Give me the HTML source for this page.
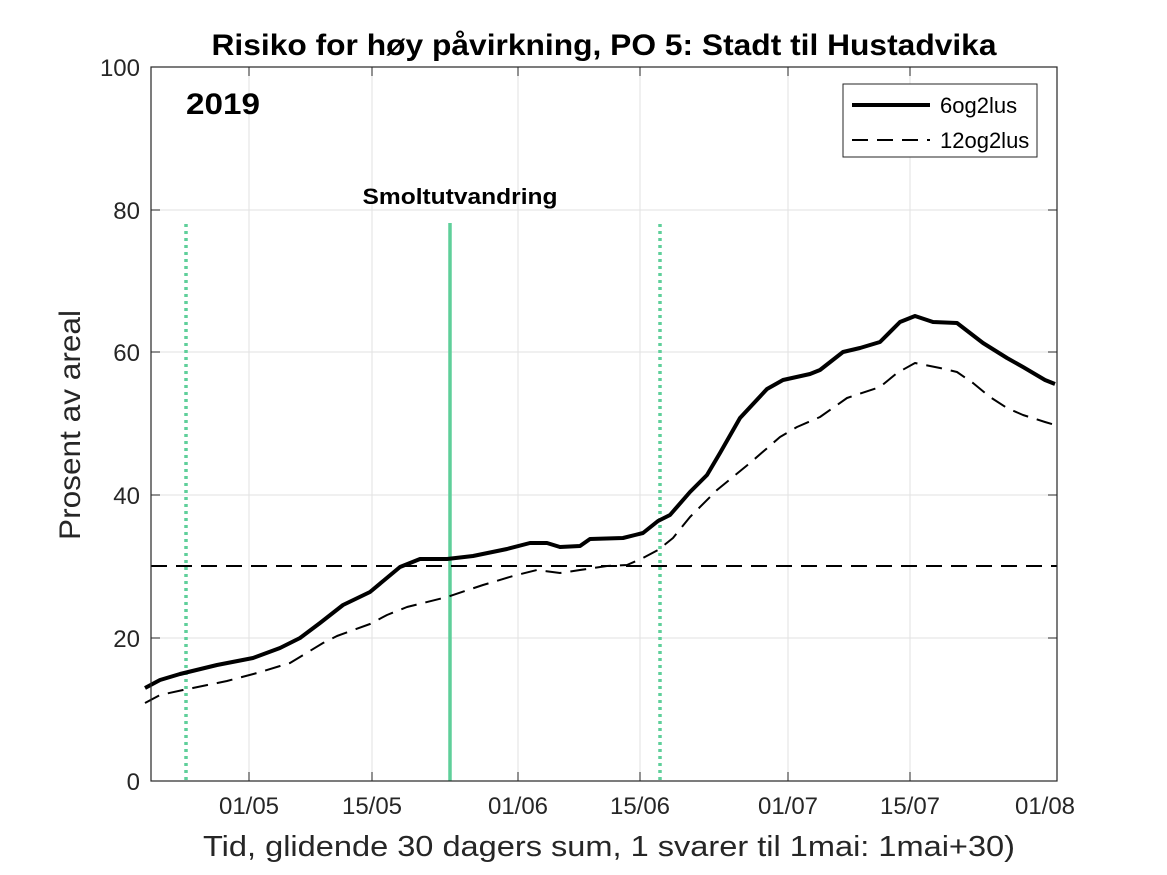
<!DOCTYPE html>
<html><head><meta charset="utf-8"><style>body{margin:0;background:#fff}svg{display:block}text{font-family:"Liberation Sans",Arial,sans-serif}</style></head><body>
<svg width="1167" height="875" viewBox="0 0 1167 875">
<rect width="1167" height="875" fill="#fff"/>
<g stroke="#e2e2e2" stroke-width="1">
<line x1="249" y1="67" x2="249" y2="781"/><line x1="372" y1="67" x2="372" y2="781"/><line x1="518" y1="67" x2="518" y2="781"/><line x1="640" y1="67" x2="640" y2="781"/><line x1="788" y1="67" x2="788" y2="781"/><line x1="910" y1="67" x2="910" y2="781"/>
<line x1="151" y1="210" x2="1057" y2="210"/><line x1="151" y1="352" x2="1057" y2="352"/><line x1="151" y1="495" x2="1057" y2="495"/><line x1="151" y1="638" x2="1057" y2="638"/>
</g>
<g stroke="#5fcf9a" stroke-width="3.5">
<line x1="186" y1="224" x2="186" y2="781" stroke-dasharray="3 4"/>
<line x1="660" y1="224" x2="660" y2="781" stroke-dasharray="3 4"/>
<line x1="450" y1="223" x2="450" y2="781"/>
</g>
<line x1="151" y1="566" x2="1057" y2="566" stroke="#000" stroke-width="2" stroke-dasharray="16 9"/>
<polyline fill="none" stroke="#000" stroke-width="4" stroke-linejoin="round" points="145,688 160,680 180,674 217,665 253,658 280,648 300,638 320,623 343,605 370,592 400,567 420,559 447,559 473,556 507,549 530,543 547,543 560,547 580,546 590,539 623,538 643,533 658,521 670,515 690,492 707,475 720,453 740,418 767,389 783,380 810,374 820,370 843,352 860,348 880,342 900,322 915,316 933,322 957,323 983,343 1007,358 1023,367 1045,380 1055,384"/>
<polyline fill="none" stroke="#000" stroke-width="2" stroke-dasharray="16 9" stroke-linejoin="round" points="145,703 160,695 183,690 227,681 257,673 290,663 323,643 337,636 370,624 387,615 407,607 447,597 483,585 513,576 537,570 560,573 580,570 607,566 627,565 643,558 658,550 673,538 690,517 717,490 750,463 780,437 797,427 820,417 847,398 880,387 897,373 915,363 940,368 957,372 973,383 990,397 1007,408 1023,415 1045,422 1055,425"/>
<rect x="151" y="67" width="906" height="714" fill="none" stroke="#262626" stroke-width="1.2"/>
<g stroke="#262626" stroke-width="1">
<line x1="249" y1="781" x2="249" y2="772"/><line x1="372" y1="781" x2="372" y2="772"/><line x1="518" y1="781" x2="518" y2="772"/><line x1="640" y1="781" x2="640" y2="772"/><line x1="788" y1="781" x2="788" y2="772"/><line x1="910" y1="781" x2="910" y2="772"/>
<line x1="249" y1="67" x2="249" y2="76"/><line x1="372" y1="67" x2="372" y2="76"/><line x1="518" y1="67" x2="518" y2="76"/><line x1="640" y1="67" x2="640" y2="76"/><line x1="788" y1="67" x2="788" y2="76"/><line x1="910" y1="67" x2="910" y2="76"/>
<line x1="151" y1="210" x2="160" y2="210"/><line x1="151" y1="352" x2="160" y2="352"/><line x1="151" y1="495" x2="160" y2="495"/><line x1="151" y1="638" x2="160" y2="638"/>
<line x1="1057" y1="210" x2="1048" y2="210"/><line x1="1057" y1="352" x2="1048" y2="352"/><line x1="1057" y1="495" x2="1048" y2="495"/><line x1="1057" y1="638" x2="1048" y2="638"/>
</g>
<g font-size="24" fill="#262626" text-anchor="end">
<text x="140" y="790">0</text><text x="140" y="647">20</text><text x="140" y="504">40</text><text x="140" y="361">60</text><text x="140" y="219">80</text><text x="140" y="76">100</text>
</g>
<g font-size="24" fill="#262626" text-anchor="middle">
<text x="249" y="814">01/05</text><text x="372" y="814">15/05</text><text x="518" y="814">01/06</text><text x="640" y="814">15/06</text><text x="788" y="814">01/07</text><text x="910" y="814">15/07</text><text x="1045" y="814">01/08</text>
<text x="609" y="856" font-size="29" textLength="812" lengthAdjust="spacingAndGlyphs">Tid, glidende 30 dagers sum, 1 svarer til 1mai: 1mai+30)</text>
<text x="604" y="55" font-size="30" font-weight="bold" fill="#000" textLength="785" lengthAdjust="spacingAndGlyphs">Risiko for høy påvirkning, PO 5: Stadt til Hustadvika</text>
<text x="460" y="204" font-size="22" font-weight="bold" fill="#000" textLength="195" lengthAdjust="spacingAndGlyphs">Smoltutvandring</text>
</g>
<text transform="translate(80,425) rotate(-90)" font-size="30" fill="#262626" text-anchor="middle" textLength="230" lengthAdjust="spacingAndGlyphs">Prosent av areal</text>
<text x="186" y="114" font-size="30" font-weight="bold" textLength="74" lengthAdjust="spacingAndGlyphs">2019</text>
<rect x="843" y="84" width="194" height="73" fill="#fff" stroke="#262626" stroke-width="1"/>
<line x1="852" y1="105" x2="930" y2="105" stroke="#000" stroke-width="4"/>
<line x1="852" y1="140" x2="930" y2="140" stroke="#000" stroke-width="2" stroke-dasharray="16 9"/>
<text x="940" y="113" font-size="22">6og2lus</text>
<text x="940" y="148" font-size="22">12og2lus</text>
</svg>
</body></html>
